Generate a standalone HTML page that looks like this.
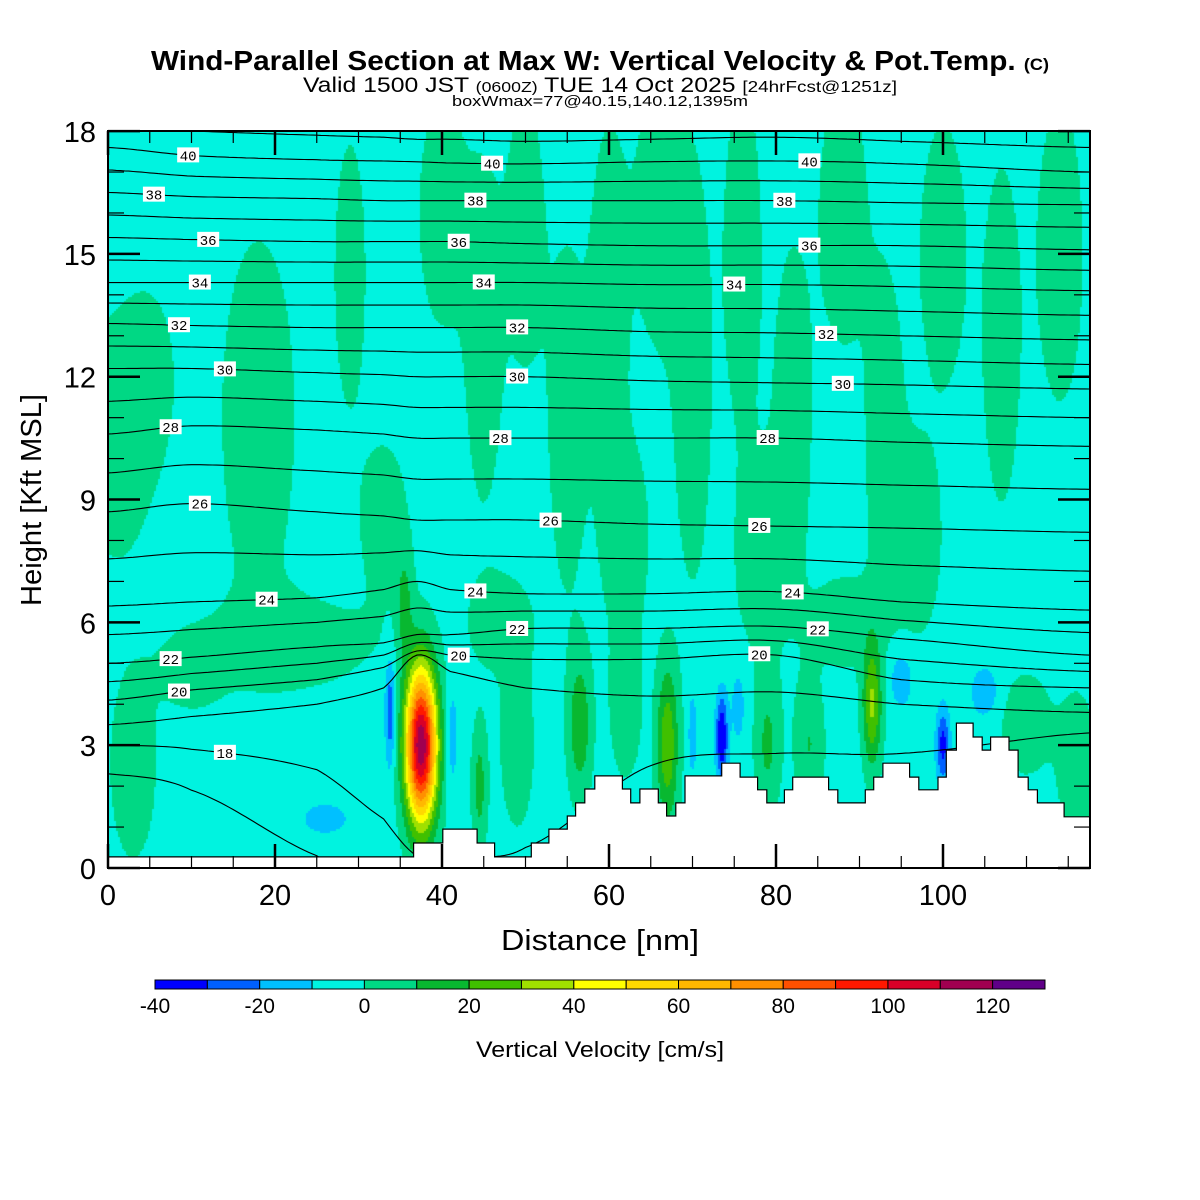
<!DOCTYPE html>
<html><head><meta charset="utf-8">
<style>
html,body{margin:0;padding:0;background:#fff;width:1200px;height:1200px;overflow:hidden;font-family:"Liberation Sans",sans-serif}
#field{position:absolute;left:108px;top:131px}
#svg{position:absolute;left:0;top:0}
</style></head>
<body>
<canvas id="field" width="982" height="737"></canvas>
<svg id="svg" width="1200" height="1200" xmlns="http://www.w3.org/2000/svg">
<g>
<text x="600" y="70" text-anchor="middle" font-size="28" font-weight="bold" textLength="898" lengthAdjust="spacingAndGlyphs">Wind-Parallel Section at Max W: Vertical Velocity &amp; Pot.Temp. <tspan font-size="17">(C)</tspan></text>
<text x="600" y="92" text-anchor="middle" font-size="21" textLength="594" lengthAdjust="spacingAndGlyphs">Valid 1500 JST <tspan font-size="15">(0600Z)</tspan> TUE 14 Oct 2025 <tspan font-size="16">[24hrFcst@1251z]</tspan></text>
<text x="600" y="106" text-anchor="middle" font-size="15" textLength="296" lengthAdjust="spacingAndGlyphs">boxWmax=77@40.15,140.12,1395m</text>
</g>
<g id="lines"></g>
<g id="terrain"></g>
<g id="labels"></g>
<g id="axes"></g>
<g id="cbar"></g>
<text x="600" y="950" text-anchor="middle" font-size="29" textLength="198" lengthAdjust="spacingAndGlyphs">Distance [nm]</text>
<text transform="translate(41,500) rotate(-90)" text-anchor="middle" font-size="29" textLength="212" lengthAdjust="spacingAndGlyphs">Height [Kft MSL]</text>
<text x="600" y="1057" text-anchor="middle" font-size="22" textLength="248" lengthAdjust="spacingAndGlyphs">Vertical Velocity [cm/s]</text>
</svg>
<script>
// ---- data ----
const xTicks=[0,20,40,60,80,100];
const yTicks=[0,3,6,9,12,15,18];
const cbLevels=[-40,-30,-20,-10,0,10,20,30,40,50,60,70,80,90,100,110,120,130];
const cbColors=["#0000ff","#0060ff","#00c0ff","#00f3e0","#00d884","#08b830","#40c000","#a0e000","#ffff00","#ffd800","#ffb800","#ff9000","#ff5000","#ff1800","#d80028","#a00050","#600088"];
const cbLabels=[-40,-20,0,20,40,60,80,100,120];
// w-field features
const fX=[1,5,18,29,33,40,45,50,55,60,66,70,76,82,88,93,100,107,114,62,78,97,22,3,10,37.5,35.5,33.8,41.2,26,44.5,49,56.5,62,67,70,73.5,75.5,79,84,91.5,95,100,105,110,116,88,47];
const fZ=[10.5,12,11,14.5,8.5,16,13,15.5,11,14,16,12,15,11,16,10.5,15,13,15,8,7.5,8,5.5,2.5,4.8,3.0,6.5,3.8,3.2,1.2,2,3,3.5,4,3,3.3,3.2,4,3,3,4,4.6,3,4.3,3.5,2.5,6,6];
const fAmp=[10,8,10,9,9,9,9,9,9,9,9,9,9,9,9,9,9,9,9,9,9,9,9,9,8,122,15,-25,-12,-15,18,9,22,12,32,-15,-38,-10,16,14,35,-15,-30,-15,11,12,9,9];
const fSx=[4.5,3,4.5,2,3,3,2.4,2.4,2.4,2.4,3,2.4,2.4,2.4,3,2.4,3,2.4,3,3,3,3,10,3,4,1.9,1.0,0.6,0.7,2.5,0.9,2.2,1.4,1.8,1.3,0.5,0.7,1.0,1.5,1.7,1.1,1.4,0.8,1.6,3,2.2,4,4];
const fSz=[3,2,4.5,3.5,2,3,4.5,3.5,4.5,4.5,3.5,5.5,4.5,4.5,3.5,4.5,3.5,4.5,4,2.5,2.5,2.5,1.2,2.5,1,1.9,1.3,1.3,1.4,0.35,1.5,2.2,1.7,1.7,1.9,1.0,1.0,1.1,1.6,1.5,1.5,0.7,0.9,0.6,1.2,1.7,1.2,1.2];
const wBase=-4;
// terrain steps (start distance nm, height kft)
const terrX=[0,36.6,40.1,44.2,46.3,50.7,52.8,55.0,56.0,57.1,58.3,61.6,62.6,63.7,65.9,66.9,68.0,69.1,73.5,75.7,77.8,78.9,81.0,82.0,86.3,87.4,90.7,91.7,92.8,96.0,97.1,99.4,100.4,101.6,103.6,104.7,105.7,107.9,109.0,110.2,111.3,114.5];
const terrH=[0.27,0.61,0.95,0.61,0.27,0.61,0.95,1.27,1.59,1.93,2.25,1.93,1.59,1.93,1.59,1.27,1.59,2.25,2.56,2.22,1.91,1.59,1.91,2.22,1.91,1.59,1.91,2.22,2.56,2.22,1.91,2.22,2.88,3.54,3.20,2.88,3.20,2.88,2.22,1.91,1.59,1.25];
const terrEnd=117.6;
// isentropes: knot distances and heights (kft) per level
const thKnots=[0,10,25,33,37,41,50,65,80,95,117.6];
const thLevels=[17,18,19,20,22,24,26,28,30,32,34,36,38,40,41];
const thHeights=[
[2.3,1.9,0.3,-0.5,-1,-1,-1,-1,-1,-1,-1],
[3.0,2.9,2.4,1.2,0.3,0.3,0.5,2.5,2.8,2.8,3.3],
[3.5,3.7,4.0,4.4,5.2,4.8,4.4,4.2,4.3,4.0,3.8],
[4.1,4.35,4.6,4.9,5.3,5.2,5.1,5.1,5.2,4.6,4.4],
[5.0,5.15,5.4,5.5,5.7,5.7,5.85,5.85,5.9,5.6,5.2],
[6.4,6.5,6.6,6.8,7.0,6.8,6.7,6.7,6.75,6.5,6.3],
[8.7,8.9,8.7,8.6,8.5,8.5,8.5,8.4,8.35,8.3,8.2],
[10.6,10.8,10.7,10.6,10.5,10.5,10.5,10.5,10.5,10.4,10.3],
[12.2,12.2,12.1,12.05,12.0,12.0,12.0,11.9,11.85,11.8,11.7],
[13.3,13.25,13.2,13.2,13.2,13.2,13.2,13.1,13.07,13.0,12.9],
[14.3,14.3,14.3,14.3,14.3,14.3,14.3,14.25,14.25,14.2,14.1],
[15.4,15.35,15.3,15.3,15.3,15.3,15.25,15.2,15.2,15.2,15.1],
[16.5,16.4,16.35,16.3,16.3,16.3,16.3,16.3,16.3,16.25,16.2],
[17.6,17.4,17.3,17.27,17.25,17.22,17.2,17.25,17.27,17.2,17.0],
[18.1,18.0,17.9,17.85,17.8,17.8,17.75,17.8,17.85,17.75,17.6]];
const lblLevel=[40,38,36,34,32,30,28,26,24,22,20,18,40,38,36,34,32,30,28,26,24,22,20,40,38,36,34,32,30,28,26,24,22,20];
const lblDist=[9.6,5.5,12,11,8.5,14,7.5,11,19,7.5,8.5,14,46,44,42,45,49,49,47,53,44,49,42,84,81,84,75,86,88,79,78,82,85,78];

// ---- scales ----
const X0=108,Y0=868,PX=8.35,PZ=40.94,XMAX=117.6;
const X=d=>X0+d*PX, Y=k=>Y0-k*PZ;
const NS="http://www.w3.org/2000/svg";
function mk(tag,attrs,parent){const e=document.createElementNS(NS,tag);for(const k in attrs)e.setAttribute(k,attrs[k]);parent.appendChild(e);return e;}

// ---- field ----
const cv=document.getElementById('field'),ctx=cv.getContext('2d');
const CS=2;
for(let py=0;py<737;py+=CS){
  const z=(737-(py+CS/2))/PZ;
  for(let px=0;px<982;px+=CS){
    const d=(px+CS/2)/PX;
    let w=wBase;
    for(let i=0;i<fX.length;i++){
      const a=(d-fX[i])/fSx[i],b=(z-fZ[i])/fSz[i];
      const q=a*a+b*b; if(q<12) w+=fAmp[i]*Math.exp(-q);
    }
    let idx=Math.floor((w-cbLevels[0])/10);
    idx=Math.max(0,Math.min(cbColors.length-1,idx));
    ctx.fillStyle=cbColors[idx];
    ctx.fillRect(px,py,CS,CS);
  }
}

// ---- isentropes ----
function thAt(h,d){
  const n=thKnots.length;
  for(let i=0;i<n-1;i++){
    if(d<=thKnots[i+1]){
      const t=(d-thKnots[i])/(thKnots[i+1]-thKnots[i]);
      const p0=h[Math.max(0,i-1)],p1=h[i],p2=h[i+1],p3=h[Math.min(n-1,i+2)];
      const t2=t*t,t3=t2*t;
      return 0.5*((2*p1)+(-p0+p2)*t+(2*p0-5*p1+4*p2-p3)*t2+(-p0+3*p1-3*p2+p3)*t3);
    }
  }
  return h[n-1];
}
const allLev=[],allH=[];
for(let i=0;i<thLevels.length;i++){
  allLev.push(thLevels[i]);allH.push(thHeights[i]);
  if(i+1<thLevels.length && thLevels[i+1]-thLevels[i]===2 && thLevels[i]>=20){
    allLev.push(thLevels[i]+1);allH.push(thHeights[i].map((v,j)=>(v+thHeights[i+1][j])/2));
  }
}
const linesG=document.getElementById('lines');
const clip=mk('clipPath',{id:'pc'},mk('defs',{},document.getElementById('svg')));
mk('rect',{x:X0,y:131,width:982,height:737},clip);
linesG.setAttribute('clip-path','url(#pc)');
allH.forEach((h,li)=>{
  let dstr='';
  for(let d=0;d<=XMAX;d+=0.5){dstr+=(d===0?'M':'L')+X(d).toFixed(1)+','+Y(thAt(h,d)).toFixed(1);}
  const p=mk('path',{d:dstr,fill:'none',stroke:'#000','stroke-width':1.1},linesG);
  
  
});

// ---- terrain ----
const tg=document.getElementById('terrain');
let td='M'+X(0)+','+Y0;
for(let i=0;i<terrX.length;i++){
  const xe=i+1<terrX.length?terrX[i+1]:terrEnd;
  td+='L'+X(terrX[i]).toFixed(1)+','+Y(terrH[i]).toFixed(1)+'L'+X(xe).toFixed(1)+','+Y(terrH[i]).toFixed(1);
}
td+='L'+X(terrEnd)+','+Y0+'Z';
const tp=mk('path',{d:td,fill:'#fff',stroke:'#000','stroke-width':1.2},tg);



// ---- isentrope labels ----
const lg=document.getElementById('labels');
for(let i=0;i<lblLevel.length;i++){
  const li=allLev.indexOf(lblLevel[i]);
  const cx=X(lblDist[i]),cy=Y(thAt(allH[li],lblDist[i]));
  const r=mk('rect',{x:cx-11,y:cy-8,width:22,height:15,fill:'#fff'},lg);
  
  
  const t=mk('text',{x:cx,y:cy+5,'text-anchor':'middle','font-size':14,'font-family':'"Liberation Mono",monospace'},lg);
  t.textContent=lblLevel[i];
  
  
}

// ---- axes ----
const ag=document.getElementById('axes');
const frame=mk('rect',{x:X0,y:131,width:982,height:737,fill:'none',stroke:'#000','stroke-width':2},ag);


for(let d=0;d<=XMAX;d+=5){
  const major=d%20===0,L=major?24:12;
  mk('line',{x1:X(d),x2:X(d),y1:Y0,y2:Y0-L,stroke:'#000','stroke-width':major?2.5:1.2},ag);
  mk('line',{x1:X(d),x2:X(d),y1:131,y2:131+L,stroke:'#000','stroke-width':major?2.5:1.2},ag);
}
for(let k=0;k<=18;k++){
  const major=k%3===0,L=major?32:16;
  mk('line',{x1:X0,x2:X0+L,y1:Y(k),y2:Y(k),stroke:'#000','stroke-width':major?2.5:1.2},ag);
  mk('line',{x1:1090,x2:1090-L,y1:Y(k),y2:Y(k),stroke:'#000','stroke-width':major?2.5:1.2},ag);
}
xTicks.forEach(v=>{
  const t=mk('text',{x:X(v),y:905,'text-anchor':'middle','font-size':29},ag);
  t.textContent=v;
  
  
});
yTicks.forEach(v=>{
  const t=mk('text',{x:96,y:Y(v)+11,'text-anchor':'end','font-size':29},ag);
  t.textContent=v;
  
  
});

// ---- colorbar ----
const cg=document.getElementById('cbar');
const CBX0=155,CBX1=1045,CBY=980,CBH=9;
const cbx=v=>CBX0+(v-cbLevels[0])/(cbLevels[cbLevels.length-1]-cbLevels[0])*(CBX1-CBX0);
cbColors.forEach((c,i)=>{
  const r=mk('rect',{x:cbx(cbLevels[i]),y:CBY,width:cbx(cbLevels[i+1])-cbx(cbLevels[i]),height:CBH,fill:c,stroke:'#000','stroke-width':1},cg);
  
  
});
cbLabels.forEach(v=>{
  const t=mk('text',{x:cbx(v),y:1013,'text-anchor':'middle','font-size':21},cg);
  t.textContent=v;
  
  
});
</script>
</body></html>
